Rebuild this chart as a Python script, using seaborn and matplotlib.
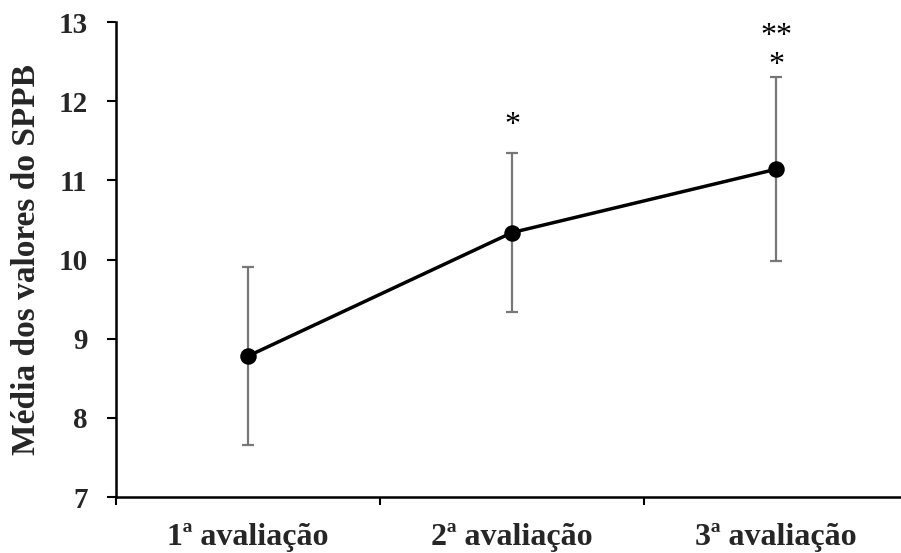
import numpy as np
import pandas as pd
import seaborn as sns
import matplotlib.pyplot as plt
from matplotlib.ticker import FixedLocator, NullFormatter, FixedFormatter

### DATA
avaliacoes = ['1ª avaliação', '2ª avaliação', '3ª avaliação']
medias = [8.78, 10.34, 11.14]
desvios = [1.12, 1.00, 1.16]
asteriscos = [[], ['*'], ['*', '**']]   # from bottom to top

df = pd.DataFrame({'avaliacao': avaliacoes, 'media': medias, 'dp': desvios})

### STYLE
sns.set_style('ticks')
plt.rcParams['font.family'] = ['Liberation Serif', 'DejaVu Serif']

fig = plt.figure(figsize=(9.01, 5.53), dpi=100)
ax = fig.add_axes([116/901, 56/553, 1 - 116/901, 475/553])

# error bars (sd) behind the line
ax.errorbar(np.arange(len(df)), df['media'], yerr=df['dp'], fmt='none',
            ecolor='#777777', elinewidth=1.6, capsize=4.5, capthick=1.6, zorder=1)

# mean line with markers
sns.pointplot(data=df, x='avaliacao', y='media', errorbar=None, color='black',
              markers='o', markersize=10, linewidth=2.5, ax=ax, zorder=3)

# significance stars above the error bars
star_offsets = {1: [0.35], 2: [0.15, 0.52]}
for i, stars in enumerate(asteriscos):
    top = df['media'][i] + df['dp'][i]
    for k, s in enumerate(stars):
        ax.text(i, top + star_offsets[i][k], s, ha='center', va='center',
                fontsize=23, color='black')

ax.set_ylim(7, 13)
ax.set_xlim(-0.5, -0.5 + 785/264)
ax.set_yticks(range(7, 14))

# category boundary ticks on x, labels in the middle
ax.xaxis.set_major_locator(FixedLocator([-0.5, 0.5, 1.5, 2.5]))
ax.xaxis.set_major_formatter(NullFormatter())
ax.xaxis.set_minor_locator(FixedLocator([0, 1, 2]))
ax.xaxis.set_minor_formatter(FixedFormatter(avaliacoes))
ax.tick_params(axis='x', which='major', direction='out', length=6, width=1.5, color='black')
ax.tick_params(axis='x', which='minor', length=0, pad=19, labelsize=23)
ax.tick_params(axis='y', direction='out', length=6.5, width=1.5, color='black',
               pad=14, labelsize=21)
for lab in ax.get_xticklabels(minor=True) + ax.get_yticklabels():
    lab.set_fontweight('bold')

ax.set_xlabel('')
ax.set_ylabel('Média dos valores do SPPB', fontsize=24, fontweight='bold', labelpad=12)

sns.despine(ax=ax)
for sp in ['left', 'bottom']:
    ax.spines[sp].set_linewidth(1.8)
    ax.spines[sp].set_color('black')

fig.savefig('out.png', dpi=100)
